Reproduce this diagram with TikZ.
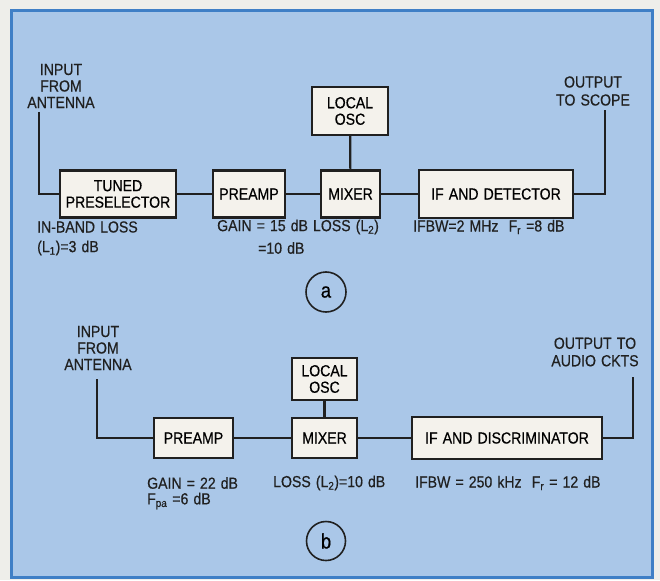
\documentclass[tikz,border=0pt]{standalone}
\usepackage{fontspec}
\setmainfont[FakeStretch=0.88, FakeBold=0.5, WordSpace=1.3]{Liberation Sans}
\usepackage{tikz}
\usetikzlibrary{positioning}
\definecolor{panel}{HTML}{AAC7E8}
\definecolor{frame}{HTML}{3F7FC6}
\definecolor{paper}{HTML}{EEEEEA}
\definecolor{boxfill}{HTML}{F4F2EC}
\definecolor{ink}{HTML}{202020}
\tikzset{
  block/.style={draw=ink, fill=boxfill, line width=2.2pt, inner sep=0pt, align=center},
  lbl/.style={inner sep=0pt, text=ink, align=left, anchor=west},
  captext/.style={inner sep=0pt, text=ink, align=center},
  wire/.style={draw=ink, line width=2.2pt},
  tag/.style={circle, draw=ink, line width=1.6pt, inner sep=0pt, font=\fontsize{21}{21}\selectfont}
}

\begin{document}
\begin{tikzpicture}[x=1pt, y=-1pt, font=\fontsize{16}{16.5}\selectfont]
\fill[paper] (0,0) rectangle (660,580);
\useasboundingbox (0,0) rectangle (660,580);
\draw[fill=panel, draw=frame, line width=3.5pt] (11.5,10.5) rectangle (652.5,577.5);

\node[block, minimum width=116, minimum height=47] at (118,194) (preselA) {TUNED\\PRESELECTOR};
\node[block, minimum width=72, minimum height=47] at (249,194) (preampA) {PREAMP};
\node[block, minimum width=59, minimum height=47] at (350.5,194) (mixerA) {MIXER};
\node[block, minimum width=76, minimum height=48] at (350,111) (oscA) {LOCAL\\OSC};
\node[block, minimum width=154, minimum height=48] at (496,194) (ifA) {IF AND DETECTOR};
\coordinate (inA) at (39,112);
\coordinate (outA) at (605,110);
\node[captext] at (61,86) (inTextA) {INPUT\\FROM\\ANTENNA};
\node[captext] at (593,91) (outTextA) {OUTPUT\\[1.5pt]TO SCOPE};
\draw[wire] (inA) |- (preselA);
\draw[wire] (preselA) -- (preampA);
\draw[wire] (preampA) -- (mixerA);
\draw[wire] (oscA) -- (mixerA);
\draw[wire] (mixerA) -- (ifA);
\draw[wire] (ifA) -| (outA);
\node[lbl] at (37,227) (lossA) {IN-BAND LOSS};
\node[lbl] at (37,248) (lossB) {(L\textsubscript{1})=3 dB};
\node[lbl] at (217,227) (gainA) {GAIN = 15 dB LOSS (L\textsubscript{2})};
\node[lbl] at (258,248) (gainB) {=10 dB};
\node[lbl] at (413,227) (ifbwA) {IFBW=2 MHz\ \ F\textsubscript{r} =8 dB};
\node[tag, minimum size=40] at (326,292) (tagA) {a};

\node[block, minimum width=79, minimum height=40] at (193.5,438) (preampB) {PREAMP};
\node[block, minimum width=65, minimum height=40] at (324.5,438) (mixerB) {MIXER};
\node[block, minimum width=65, minimum height=42] at (324.5,379) (oscB) {LOCAL\\OSC};
\node[block, minimum width=190, minimum height=42] at (507,438) (ifB) {IF AND DISCRIMINATOR};
\coordinate (inB) at (97,379);
\coordinate (outB) at (633,377);
\node[captext] at (98,348) (inTextB) {INPUT\\FROM\\ANTENNA};
\node[captext] at (595,352) (outTextB) {OUTPUT TO\\[1pt]AUDIO CKTS};
\draw[wire] (inB) |- (preampB);
\draw[wire] (preampB) -- (mixerB);
\draw[wire] (oscB) -- (mixerB);
\draw[wire] (mixerB) -- (ifB);
\draw[wire] (ifB) -| (outB);
\node[lbl] at (147,483) (gainC) {GAIN = 22 dB};
\node[lbl] at (147,501) (gainD) {F\textsubscript{pa} =6 dB};
\node[lbl] at (273,483) (lossC) {LOSS (L\textsubscript{2})=10 dB};
\node[lbl] at (415,483) (ifbwB) {IFBW = 250 kHz\ \ F\textsubscript{r} = 12 dB};
\node[tag, minimum size=39] at (326,541) (tagB) {b};
\end{tikzpicture}
\end{document}
